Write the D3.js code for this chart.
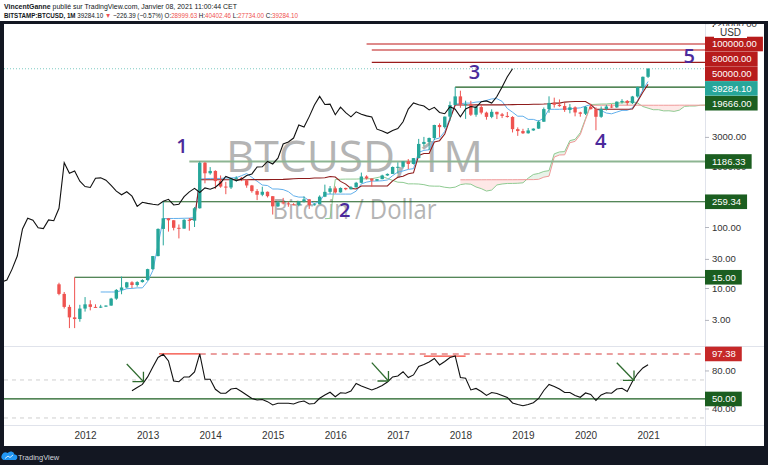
<!DOCTYPE html>
<html>
<head>
<meta charset="utf-8">
<script src="https://d3js.org/d3.v7.min.js"></script>
<style>
  body { margin: 0; background: #131722; }
  svg { display: block; font-family: "Liberation Sans", Arial, sans-serif; }
</style>
</head>
<body>
<script>
// monthly BTCUSD candles, first one = Aug 2011
var firstOpen = 11.5;
var closes = [8.0, 4.9, 3.3, 3.1, 4.6, 5.4, 4.9, 4.85, 4.95, 5.15, 6.7, 9.3, 10.2, 12.4, 11.2, 12.5, 13.5,
  20.4, 33.4, 93, 139, 129, 97, 94, 131, 127, 203, 1130, 760,
  830, 565, 460, 445, 630, 640, 585, 480, 388, 338, 378, 320,
  218, 254, 244, 236, 230, 264, 284, 230, 236, 314, 377, 430,
  369, 437, 416, 448, 531, 673, 624, 575, 609, 700, 742, 964,
  970, 1190, 1080, 1348, 2300, 2480, 2875, 4700, 4340, 6450, 10000, 13850,
  10220, 10320, 6930, 9240, 7500, 6390, 7730, 7030, 6630, 6370, 4020, 3740,
  3440, 3830, 4100, 5320, 8570, 10820, 10090, 9600, 8300, 9150, 7550, 7190,
  9350, 8540, 6410, 8620, 9450, 9140, 11350, 11660, 10780, 13800, 19700, 28990,
  39284.10];
var highs = [12.2, 8.6, 5.3, 15, 5.3, 7.1, 6.3, 5.4, 5.3, 5.2, 6.9, 9.6, 15.4, 12.6, 12.9, 12.9, 13.9,
  20.7, 33.5, 95, 266, 140, 129, 110, 135, 140, 213, 1186.33, 1160,
  960, 850, 700, 550, 640, 680, 660, 600, 490, 418, 458, 382,
  320, 265, 300, 260, 246, 268, 318, 287, 245, 330, 495, 470,
  462, 445, 440, 468, 549, 780, 704, 626, 614, 720, 755, 980,
  1150, 1200, 1300, 1350, 2780, 3000, 2930, 4750, 5000, 6470, 11400, 19666,
  17170, 11780, 11700, 9760, 9990, 7780, 8500, 7760, 7410, 7680, 6560, 4300,
  4070, 4200, 4130, 5600, 9100, 13880, 13200, 12330, 10900, 10370, 9500, 7750,
  9570, 10500, 9180, 9460, 10080, 10380, 11440, 12470, 12070, 14100, 19900, 29300,
  40402.46];
var lows = [7.6, 4.6, 2.2, 2.2, 2.8, 4.1, 4.3, 4.7, 4.7, 4.9, 5.1, 6.4, 7.9, 9.9, 10.0, 10.5, 12.3,
  13.2, 19.9, 33, 50, 84, 88, 65, 94, 87, 100, 200, 520,
  720, 420, 440, 345, 420, 550, 565, 440, 365, 276, 320, 305,
  160, 212, 235, 215, 227, 218, 252, 198, 225, 236, 309, 350,
  353, 366, 401, 411, 443, 520, 600, 460, 569, 606, 690, 740,
  750, 915, 890, 1060, 1340, 2100, 1830, 2670, 2970, 4110, 5500, 10800,
  9000, 5920, 6600, 6430, 7030, 5750, 6070, 5880, 6100, 6200, 3550, 3120,
  3350, 3390, 3780, 4070, 5300, 7450, 9070, 9340, 7710, 7300, 6520, 6430,
  6850, 8450, 3860, 6160, 8120, 8900, 8960, 10540, 9880, 10370, 13200, 17600,
  27734.00];

// RSI, starts at month index 14
var rsiStart = 14;
var rsiValues = [58.7, 62.1, 65.3, 73.2, 83.7, 93.7, 97.0, 90, 68.9, 68.2,
  73.2, 73.2, 78.4, 97.38, 70.7, 70.7, 60.2, 56, 56, 60.5,
  61.3, 57.9, 54.2, 50.5, 48.9, 49.5, 47.2, 43.7, 45.5, 45.5,
  45.5, 44.7, 46.8, 47.9, 44.7, 45.3, 50.7, 54.2, 57.1, 52.4,
  56.6, 56, 58.4, 66.3, 63.7, 61.6, 59.5, 61.6, 64.2, 67.9,
  73.2, 74.2, 78.7, 72.6, 75.3, 84.2, 86.3, 88.9, 92.6, 85.8,
  89.5, 93.7, 95.3, 72.6, 71.8, 59.5, 61.1, 57.9, 53.7, 56.8,
  55.8, 53.7, 51.6, 45.8, 44.2, 42.9, 44.2, 46.1, 50.5, 58.9,
  65.3, 63.2, 60.5, 56.8, 56.8, 53.7, 51.8, 56.3, 54.7, 48.4,
  54.2, 56.6, 56, 60.5, 61.3, 57.9, 68.4, 76.8, 82.6, 86.1];

// time axis
var yearMonths = [5, 17, 29, 41, 53, 65, 77, 89, 101, 113];
var yearLabels = ["2012", "2013", "2014", "2015", "2016", "2017", "2018", "2019", "2020", "2021"];
// visible price ticks (the rest sit under the level tags)
var priceTicks = [3, 10, 30, 100, 1000, 3000, 220000];
var rsiTicks = [40, 80];

// drawn horizontal levels (price, first month)
var levelPrices = [100000, 80000, 50000, 19666, 1186.33, 259.34, 15];
var levelStart = [59, 60, 60, 76, 25, 20, 3];
var lastPrice = 39284.10;

// wave count labels
var waveNames = ["1", "2", "3", "4", "5"];
var waveMonth = [23.6, 54.8, 79.7, 103.9, 120.9];
var wavePrice = [1630, 146, 26700, 1970, 48900];

// RSI drawings
var rsiHigh = 97.38, rsiHighFrom = 19.2, rsiHighTo = 27;
var rsiHigh2 = 95, rsiHigh2From = 70, rsiHigh2To = 78;
var arrowFrom = [[13.0, 86.8], [60, 88.2], [107, 88.2]];
var arrowTo = [[16.2, 68.2], [63.2, 68.9], [110.3, 69.5]];

// layout
var W = 768, H = 465;
var plotL = 4, plotR = 705, mainTop = 24, mainBot = 346, rsiTop = 347, rsiBot = 425, axisBot = 446;

var svg = d3.select("body").append("svg").attr("width", W).attr("height", H);
svg.append("rect").attr("width", W).attr("height", H).attr("fill", "#131722");
svg.append("rect").attr("width", W).attr("height", 21).attr("fill", "#fff");
svg.append("rect").attr("x", plotL).attr("y", mainTop).attr("width", 760).attr("height", axisBot - mainTop).attr("fill", "#fff");

var defs = svg.append("defs");
defs.append("clipPath").attr("id", "mainClip").append("rect")
  .attr("x", plotL).attr("y", mainTop).attr("width", plotR - plotL).attr("height", mainBot - mainTop);
defs.append("clipPath").attr("id", "rsiClip").append("rect")
  .attr("x", plotL).attr("y", rsiTop).attr("width", plotR - plotL).attr("height", rsiBot - rsiTop);

var x = d3.scaleLinear().domain([-10.55, 123.92]).range([plotL, plotR]);
var y = d3.scaleLog().domain([1.12, 212800]).range([mainBot, mainTop]);
var yr = d3.scaleLinear().domain([22.6, 104.7]).range([rsiBot, rsiTop]);

// watermark
var wm = svg.append("g").attr("fill", "#b4b4b4").style("font-family", "'Open Sans', sans-serif");
wm.append("text").attr("x", (plotL + plotR) / 2).attr("y", 172).attr("text-anchor", "middle")
  .attr("textLength", 257).attr("lengthAdjust", "spacingAndGlyphs").style("font-size", "44px").text("BTCUSD, 1M");
wm.append("text").attr("x", (plotL + plotR) / 2).attr("y", 219).attr("text-anchor", "middle")
  .attr("textLength", 164).attr("lengthAdjust", "spacingAndGlyphs").style("font-size", "27px").text("Bitcoin / Dollar");

var main = svg.append("g").attr("clip-path", "url(#mainClip)");

// ichimoku
var n = closes.length;
var opens = closes.map(function(c, i) { return i === 0 ? firstOpen : closes[i - 1]; });
function donchian(i, len) {
  if (i < len - 1) return null;
  return (d3.max(highs.slice(i - len + 1, i + 1)) + d3.min(lows.slice(i - len + 1, i + 1))) / 2;
}
var tenkan = d3.range(n).map(function(i) { return {m: i, v: donchian(i, 9)}; });
var kijun = d3.range(n).map(function(i) { return {m: i, v: donchian(i, 26)}; });
var spanA = d3.range(n).map(function(i) {
  var t = tenkan[i].v, k = kijun[i].v;
  return {m: i + 26, v: (t != null && k != null) ? (t + k) / 2 : null};
});
var spanB = d3.range(n).map(function(i) { return {m: i + 26, v: donchian(i, 52)}; });
var lagging = closes.map(function(c, i) { return {m: i - 26, v: c}; });

var line = d3.line().defined(function(d) { return d.v != null; })
  .x(function(d) { return x(d.m); }).y(function(d) { return y(d.v); });

// cloud fill
for (var i = 0; i < n - 1; i++) {
  var a0 = spanA[i].v, a1 = spanA[i + 1].v, b0 = spanB[i].v, b1 = spanB[i + 1].v;
  if (a0 == null || a1 == null || b0 == null || b1 == null) continue;
  var m0 = spanA[i].m, m1 = spanA[i + 1].m;
  main.append("path")
    .attr("d", "M" + x(m0) + "," + y(a0) + "L" + x(m1) + "," + y(a1) + "L" + x(m1) + "," + y(b1) + "L" + x(m0) + "," + y(b0) + "Z")
    .attr("fill", a0 >= b0 ? "rgba(67,160,71,0.12)" : "rgba(244,67,54,0.12)");
}
main.append("path").datum(spanA).attr("d", line).attr("fill", "none").attr("stroke", "#8fcb92").attr("stroke-width", 1);
main.append("path").datum(spanB).attr("d", line).attr("fill", "none").attr("stroke", "#f09a9a").attr("stroke-width", 1);

// horizontal levels
var levelColor = ["#de8a8a", "#de8a8a", "#9b1c1c", "#1b5e20", "#8db592", "#1b5e20", "#1b5e20"];
var levelWidth = [2, 2, 1.2, 1.2, 2, 1.2, 1.2];
levelPrices.forEach(function(p, k) {
  main.append("line").attr("x1", x(levelStart[k])).attr("x2", plotR)
    .attr("y1", y(p)).attr("y2", y(p)).attr("stroke", levelColor[k]).attr("stroke-width", levelWidth[k]);
});
main.append("line").attr("x1", plotL).attr("x2", plotR).attr("y1", y(lastPrice)).attr("y2", y(lastPrice))
  .attr("stroke", "#26a69a").attr("stroke-opacity", 0.6).attr("stroke-dasharray", "1,2");

main.append("path").datum(tenkan).attr("d", line).attr("fill", "none").attr("stroke", "#62b0ec").attr("stroke-width", 1);
main.append("path").datum(kijun).attr("d", line).attr("fill", "none").attr("stroke", "#8e1b1b").attr("stroke-width", 1.1);

// candles
var candles = main.selectAll("g.candle").data(d3.range(n)).enter().append("g");
candles.append("line")
  .attr("x1", function(i) { return x(i); }).attr("x2", function(i) { return x(i); })
  .attr("y1", function(i) { return y(highs[i]); }).attr("y2", function(i) { return y(lows[i]); })
  .attr("stroke", function(i) { return closes[i] >= opens[i] ? "#26a69a" : "#ef5350"; });
candles.append("rect")
  .attr("x", function(i) { return x(i) - 1.7; }).attr("width", 3.4)
  .attr("y", function(i) { return y(Math.max(opens[i], closes[i])); })
  .attr("height", function(i) { return Math.max(1, Math.abs(y(opens[i]) - y(closes[i]))); })
  .attr("fill", function(i) { return closes[i] >= opens[i] ? "#26a69a" : "#ef5350"; });

main.append("path").datum(lagging).attr("d", line).attr("fill", "none").attr("stroke", "#111").attr("stroke-width", 1.1);

// wave labels
waveNames.forEach(function(t, k) {
  svg.append("text").attr("x", x(waveMonth[k])).attr("y", y(wavePrice[k])).attr("text-anchor", "middle")
    .style("font-family", "'Open Sans', sans-serif").style("font-size", "20px").style("font-weight", "600")
    .attr("fill", "#4b2a9b").text(t);
});

// RSI pane
var rsi = svg.append("g").attr("clip-path", "url(#rsiClip)");
[70, 30].forEach(function(v) {
  rsi.append("line").attr("x1", plotL).attr("x2", plotR).attr("y1", yr(v)).attr("y2", yr(v))
    .attr("stroke", "#cfcfcf").attr("stroke-dasharray", "4,4");
});
rsi.append("line").attr("x1", plotL).attr("x2", plotR).attr("y1", yr(50)).attr("y2", yr(50))
  .attr("stroke", "#1b5e20").attr("stroke-width", 1.2);
rsi.append("line").attr("x1", x(rsiHighTo)).attr("x2", plotR).attr("y1", yr(rsiHigh)).attr("y2", yr(rsiHigh))
  .attr("stroke", "#e58080").attr("stroke-width", 1.6).attr("stroke-dasharray", "6,5");
rsi.append("line").attr("x1", x(rsiHighFrom)).attr("x2", x(rsiHighTo)).attr("y1", yr(rsiHigh)).attr("y2", yr(rsiHigh))
  .attr("stroke", "#f44336").attr("stroke-width", 1.3);
rsi.append("line").attr("x1", x(rsiHigh2From)).attr("x2", x(rsiHigh2To)).attr("y1", yr(rsiHigh2)).attr("y2", yr(rsiHigh2))
  .attr("stroke", "#f44336").attr("stroke-width", 1.2);

var rsiPts = rsiValues.map(function(v, k) { return {m: rsiStart + k, v: v}; });
rsi.append("path").datum(rsiPts)
  .attr("d", d3.line().x(function(d) { return x(d.m); }).y(function(d) { return yr(d.v); }))
  .attr("fill", "none").attr("stroke", "#111").attr("stroke-width", 1.1);

arrowFrom.forEach(function(f, k) {
  var t = arrowTo[k];
  var tx = x(t[0]), ty = yr(t[1]);
  var g = rsi.append("g").attr("stroke", "#2e6b2e").attr("stroke-width", 1.3).attr("fill", "none");
  g.append("line").attr("x1", x(f[0])).attr("y1", yr(f[1])).attr("x2", tx).attr("y2", ty);
  g.append("path").attr("d", "M" + (tx - 11) + "," + ty + "L" + tx + "," + ty + "L" + tx + "," + (ty - 10));
});

// separators
svg.append("line").attr("x1", plotL).attr("x2", 764).attr("y1", 346.5).attr("y2", 346.5).attr("stroke", "#e0e3eb");
svg.append("line").attr("x1", plotL).attr("x2", 764).attr("y1", 425.5).attr("y2", 425.5).attr("stroke", "#e0e3eb");
svg.append("line").attr("x1", plotR + 0.5).attr("x2", plotR + 0.5).attr("y1", mainTop).attr("y2", axisBot).attr("stroke", "#e0e3eb");

// axes
function styleAxis(g) {
  g.select(".domain").remove();
  g.selectAll("text").attr("fill", "#333").style("font-size", "9.5px").style("font-family", "'Liberation Sans', Arial, sans-serif");
  g.selectAll("line").attr("stroke", "#b2b5be");
}
svg.append("g").attr("transform", "translate(0," + rsiBot + ")")
  .call(d3.axisBottom(x).tickValues(yearMonths).tickFormat(function(d, k) { return yearLabels[k]; }).tickSize(0).tickPadding(7))
  .call(styleAxis).selectAll("text").style("font-size", "10px");
svg.append("g").attr("transform", "translate(" + plotR + ",0)")
  .call(d3.axisRight(y).tickValues(priceTicks).tickFormat(function(d) { return d.toFixed(2); }).tickSize(4).tickPadding(3))
  .call(styleAxis);
svg.append("g").attr("transform", "translate(" + plotR + ",0)")
  .call(d3.axisRight(yr).tickValues(rsiTicks).tickFormat(function(d) { return d.toFixed(2); }).tickSize(4).tickPadding(3))
  .call(styleAxis);

// price tags
function tag(cy, label, color) {
  var g = svg.append("g");
  var t = g.append("text").attr("x", 712).attr("y", cy + 3.4).attr("fill", "#fff")
    .style("font-size", "9.5px").text(label);
  var w = t.node().getComputedTextLength();
  g.insert("rect", "text").attr("x", plotR).attr("y", cy - 7.3).attr("width", w + 13).attr("height", 14.6).attr("fill", color);
}
var red = "#b71c1c", green = "#1b5e20", teal = "#26a69a";
var topTags = [[100000, red], [80000, red], [50000, red], [lastPrice, teal], [19666, green]];
var prev = -100;
topTags.forEach(function(tg) {
  var cy = Math.max(y(tg[0]), prev + 14.8);
  prev = cy;
  tag(cy, tg[0].toFixed(2), tg[1]);
});
[1186.33, 259.34, 15].forEach(function(p) { tag(y(p), p.toFixed(2), green); });
tag(yr(rsiHigh), rsiHigh.toFixed(2), "#c62828");
tag(yr(50), (50).toFixed(2), green);

// top band and USD label
svg.append("rect").attr("y", 21).attr("width", W).attr("height", 3).attr("fill", "#131722");
svg.append("rect").attr("x", 714).attr("y", 26).attr("width", 33).attr("height", 12).attr("fill", "#fff");
svg.append("text").attr("x", 730.5).attr("y", 35.5).attr("text-anchor", "middle").attr("fill", "#333")
  .style("font-size", "10px").text("USD");

// header
var h1 = svg.append("text").attr("x", 4).attr("y", 8.5).attr("fill", "#131722").style("font-size", "7px")
  .attr("textLength", 233).attr("lengthAdjust", "spacingAndGlyphs");
h1.append("tspan").style("font-weight", "bold").text("VincentGanne");
h1.append("tspan").text(" publié sur TradingView.com, Janvier 08, 2021 11:00:44 CET");
var h2 = svg.append("text").attr("x", 4).attr("y", 17.5).attr("fill", "#131722").style("font-size", "7px")
  .attr("textLength", 294).attr("lengthAdjust", "spacingAndGlyphs");
var hdr = [["BITSTAMP:BTCUSD, 1M", "b"], [" 39284.10 ", ""], ["▼", "r"], [" −226.39 (−0.57%) O:", ""], ["28999.63", "r"],
  [" H:", ""], ["40402.46", "r"], [" L:", ""], ["27734.00", "r"], [" C:", ""], ["39284.10", "r"]];
hdr.forEach(function(s) {
  var ts = h2.append("tspan").text(s[0]);
  if (s[1] === "b") ts.style("font-weight", "bold");
  if (s[1] === "r") ts.attr("fill", "#ef5350");
});

// TradingView logo
var logo = svg.append("g");
logo.append("path").attr("d", "M3.5,460 h11 a2.8,2.8 0 0 0 0,-5.6 a3.8,3.8 0 0 0 -6.8,-1.4 a3,3 0 0 0 -4.2,7 z").attr("fill", "#2196f3");
logo.append("path").attr("d", "M5,458.5 L8,456 L10,457.5 L13,455").attr("stroke", "#fff").attr("stroke-width", 0.8).attr("fill", "none");
logo.append("text").attr("x", 18).attr("y", 459.5).attr("fill", "#d1d4dc").style("font-size", "7.5px").text("TradingView");
</script>
</body>
</html>
